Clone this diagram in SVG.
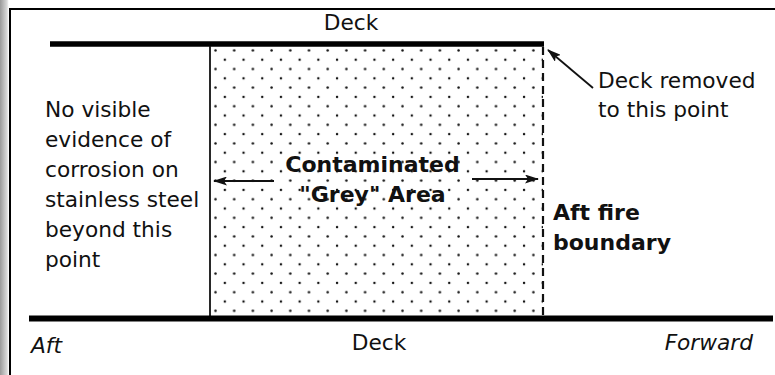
<svg xmlns="http://www.w3.org/2000/svg" width="775" height="375" viewBox="0 0 775 375">
<defs>
<linearGradient id="bar" x1="0" y1="0" x2="1" y2="0">
<stop offset="0" stop-color="#9a9a9a"/>
<stop offset="0.8" stop-color="#d8d8d8"/>
<stop offset="1" stop-color="#f4f4f4"/>
</linearGradient>
<pattern id="dots" patternUnits="userSpaceOnUse" x="211" y="46" width="18.7" height="18.6">
<circle cx="4.5" cy="4.5" r="1.25" fill="#111"/>
<circle cx="13.85" cy="13.8" r="1.25" fill="#111"/>
</pattern>
<marker id="ah" viewBox="0 0 14 9" refX="13" refY="4.5" markerWidth="14" markerHeight="9" markerUnits="userSpaceOnUse" orient="auto">
<path d="M0,0 L14,4.5 L0,9 L3,4.5 Z" fill="#111"/>
</marker>
<style>
text{font-family:"DejaVu Sans","Verdana",sans-serif;font-size:21.7px;fill:#111}
.b{font-weight:bold;font-size:22px}
.i{font-style:italic}
.c{text-anchor:middle}
.conn{stroke:#111;stroke-width:1.8;fill:none}
</style>
</defs>
<rect x="0" y="0" width="775" height="375" fill="#fff"/>
<rect x="0" y="0" width="8.5" height="375" fill="url(#bar)"/>
<line x1="10" y1="9" x2="775" y2="9" stroke="#000" stroke-width="2"/>
<line x1="10" y1="8" x2="10" y2="375" stroke="#000" stroke-width="2"/>

<g id="grey-area">
<rect x="210" y="46" width="333" height="270" fill="url(#dots)"/>
<text class="b c" x="372.5" y="172">Contaminated</text>
<text class="b c" x="372.5" y="202">"Grey" Area</text>
</g>

<g id="deck-top">
<line x1="50" y1="44" x2="544" y2="44" stroke="#000" stroke-width="5.5"/>
<text class="c" x="351" y="30">Deck</text>
</g>

<g id="aft-limit">
<line x1="210" y1="46" x2="210" y2="316" stroke="#111" stroke-width="1.8"/>
</g>

<g id="aft-fire-boundary">
<line x1="543" y1="47" x2="543" y2="316" stroke="#111" stroke-width="2.2" stroke-dasharray="8,5"/>
<text class="b" x="553" y="220">Aft fire</text>
<text class="b" x="553" y="250">boundary</text>
</g>

<g id="deck-bottom">
<line x1="29" y1="318.5" x2="773" y2="318.5" stroke="#000" stroke-width="6"/>
<text class="c" x="379" y="350">Deck</text>
<text class="i" x="31" y="353">Aft</text>
<text class="i" x="753" y="350" text-anchor="end">Forward</text>
</g>

<g id="no-corrosion-note">
<text x="45" y="117">No visible</text>
<text x="45" y="147">evidence of</text>
<text x="45" y="177">corrosion on</text>
<text x="45" y="207">stainless steel</text>
<text x="45" y="237">beyond this</text>
<text x="45" y="267">point</text>
</g>

<g id="deck-removed-note">
<text x="598" y="88">Deck removed</text>
<text x="598" y="117">to this point</text>
</g>

<g id="connectors">
<line class="conn" x1="274" y1="181" x2="214" y2="181" marker-end="url(#ah)"/>
<line class="conn" x1="472" y1="179" x2="538" y2="179" marker-end="url(#ah)"/>
<line class="conn" x1="593" y1="88" x2="548" y2="50" marker-end="url(#ah)"/>
</g>
</svg>
